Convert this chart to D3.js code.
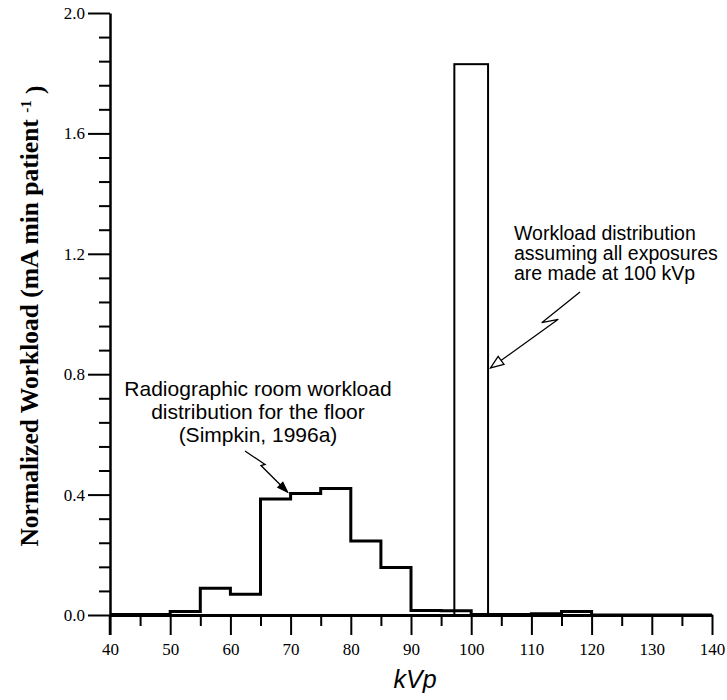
<!DOCTYPE html>
<html><head><meta charset="utf-8">
<script src="https://cdnjs.cloudflare.com/ajax/libs/d3/7.8.5/d3.min.js"></script>
<style>body{margin:0;background:#fff}svg{display:block}</style>
</head><body>
<svg id="c" width="727" height="700"></svg>
<script>
// Data
const binStarts = [40,45,50,55,60,65,70,75,80,85,90,95,100,105,110,115,120,125,130,135];
const floorWorkload = [0.002,0.002,0.012,0.089,0.069,0.385,0.404,0.42,0.246,0.158,0.015,0.014,0.002,0.002,0.004,0.012,0,0,0,0];
const barKvp = [100];
const barWorkload = [1.83];
const barWidthKvp = 5.6;
const xMajorTicks = [40,50,60,70,80,90,100,110,120,130,140];
const xMinorTicks = [45,55,65,75,85,95,105,115,125,135];
const yMajorTicks = [0,0.4,0.8,1.2,1.6,2.0];
const yMinorTicks = [0.08,0.16,0.24,0.32,0.48,0.56,0.64,0.72,0.88,0.96,1.04,1.12,1.28,1.36,1.44,1.52,1.68,1.76,1.84,1.92];
const annotFloor = ["Radiographic room workload","distribution for the floor","(Simpkin, 1996a)"];
const annotBar = ["Workload distribution","assuming all exposures","are made at 100 kVp"];

const svg = d3.select("#c");
const x = d3.scaleLinear().domain([40,140]).range([110,712]);
const y = d3.scaleLinear().domain([0,2.0]).range([615,13]);

// bar (100 kVp)
svg.selectAll("rect.bar").data(barKvp).enter().append("rect")
  .attr("x", (d)=>x(d - barWidthKvp/2))
  .attr("y", (d,i)=>y(barWorkload[i]))
  .attr("width", (d)=>x(d + barWidthKvp/2) - x(d - barWidthKvp/2))
  .attr("height", (d,i)=>y(0)-y(barWorkload[i]))
  .attr("fill","none").attr("stroke","#000").attr("stroke-width",2);

// axes
const gx = svg.append("g").attr("transform",`translate(0,${y(0)})`);
gx.call(d3.axisBottom(x).tickValues(xMajorTicks).tickSize(20).tickSizeOuter(0).tickPadding(4).tickFormat(d3.format("d")));
const gxm = svg.append("g").attr("transform",`translate(0,${y(0)})`);
gxm.call(d3.axisBottom(x).tickValues(xMinorTicks).tickSize(11).tickSizeOuter(0).tickFormat(""));
gxm.select(".domain").remove();

const gy = svg.append("g").attr("transform",`translate(${x(40)},0)`);
gy.call(d3.axisLeft(y).tickValues(yMajorTicks).tickSize(22).tickSizeOuter(0).tickPadding(3).tickFormat(d3.format(".1f")));
const gym = svg.append("g").attr("transform",`translate(${x(40)},0)`);
gym.call(d3.axisLeft(y).tickValues(yMinorTicks).tickSize(11).tickSizeOuter(0).tickFormat(""));
gym.select(".domain").remove();

[gx,gy,gxm,gym].forEach(g=>{
  g.selectAll("line").attr("stroke","#000").attr("stroke-width",2);
  g.selectAll(".domain").attr("stroke","#000").attr("stroke-width",2.5);
  g.selectAll("text").attr("fill","#000").style("font-family","'Liberation Serif', 'Times New Roman', serif").style("font-size","17px");
});
gx.select(".domain").attr("stroke-width",3);
gx.selectAll("text").attr("dy","0.95em");
// y axis extends down to the bottom of the 40 tick
svg.append("line").attr("x1",x(40)).attr("x2",x(40)).attr("y1",y(0)).attr("y2",y(0)+20).attr("stroke","#000").attr("stroke-width",2.5);

// floor histogram (step)
const pts = binStarts.map((b,i)=>[b,floorWorkload[i]]);
pts.push([140, floorWorkload[floorWorkload.length-1]]);
const line = d3.line().x(d=>x(d[0])).y(d=>y(d[1])).curve(d3.curveStepAfter);
svg.append("path").datum(pts).attr("d",line).attr("fill","none").attr("stroke","#000").attr("stroke-width",3).attr("stroke-linejoin","miter");

// annotations
const ta = svg.append("text").attr("text-anchor","middle").style("font-family","'Liberation Sans', Arial, sans-serif").style("font-size","21px").attr("fill","#000");
annotFloor.forEach((t,i)=>ta.append("tspan").attr("x",258).attr("y",396 + i*23).text(t));
const tb = svg.append("text").attr("text-anchor","start").style("font-family","'Liberation Sans', Arial, sans-serif").style("font-size","19.5px").attr("fill","#000");
annotBar.forEach((t,i)=>tb.append("tspan").attr("x",514).attr("y",240 + i*20).text(t));

// lightning arrows
const zig = d3.line();
function arrow(pathPts, open){
  svg.append("path").attr("d",zig(pathPts)).attr("fill","none").attr("stroke","#000").attr("stroke-width",1.3);
  const n = pathPts.length, tip = pathPts[n-1], prev = pathPts[n-2];
  const ang = Math.atan2(tip[1]-prev[1], tip[0]-prev[0]);
  const L = open ? 13 : 10, W = open ? 5 : 3.5;
  const bx = tip[0]-L*Math.cos(ang), by = tip[1]-L*Math.sin(ang);
  const p1 = [bx + W*Math.sin(ang), by - W*Math.cos(ang)];
  const p2 = [bx - W*Math.sin(ang), by + W*Math.cos(ang)];
  svg.append("path").attr("d",`M${p1}L${tip}L${p2}Z`).attr("fill",open?"#fff":"#000").attr("stroke","#000").attr("stroke-width",1.3);
}
arrow([[245,451],[265,464.5],[261,465.5],[287.5,492]], false);
arrow([[580,292],[541.7,322.7],[558.3,319.3],[490.5,368]], true);

// axis titles
svg.append("text").attr("x",415).attr("y",688).attr("text-anchor","middle")
  .style("font-family","'Liberation Sans', Arial, sans-serif").style("font-size","25px").style("font-style","italic").attr("fill","#000").text("kVp");
const yl = svg.append("text").attr("transform","translate(38,316) rotate(-90)").attr("text-anchor","middle")
  .style("font-family","'Liberation Serif', 'Times New Roman', serif").style("font-size","25.5px").style("font-weight","bold").attr("fill","#000");
yl.append("tspan").text("Normalized Workload (mA min patient ");
yl.append("tspan").attr("dy","-0.45em").style("font-size","15px").text("-1");
yl.append("tspan").attr("dy","0.45em").text(" )");
</script>
</body></html>
